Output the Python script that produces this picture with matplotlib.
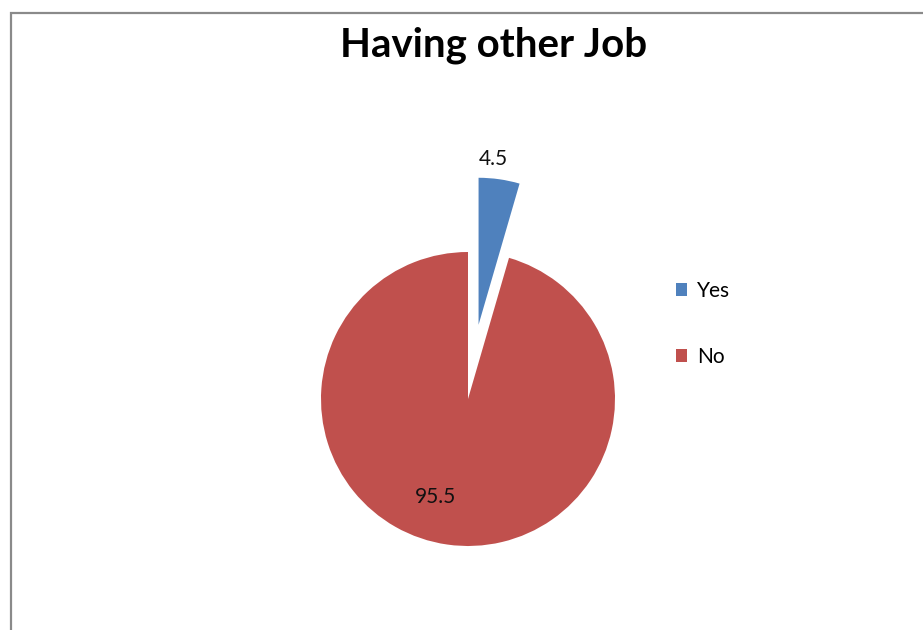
import matplotlib
matplotlib.use("Agg")
import matplotlib.pyplot as plt
from matplotlib.patches import Rectangle
import numpy as np

# Data
categories = ["Yes", "No"]
values = [4.5, 95.5]
value_labels = ["4.5", "95.5"]
colors = ["#4F81BD", "#C0504D"]
title = "Having other Job"

W, H = 923, 630
fig = plt.figure(figsize=(W / 100, H / 100), dpi=100)
fig.patch.set_facecolor("white")

# Chart area border (extends past the right and bottom edges)
fig.patches.append(Rectangle((10.5 / W, -0.1), 1.2, (H - 13) / H + 0.1,
                             transform=fig.transFigure, fill=False,
                             edgecolor="#8a8a8a", linewidth=1.6))

ax = fig.add_axes([0, 0, 1, 1])

cx, cy, r = 468, H - 399, 147
# pie's explode offset is in data units here
wedges, _ = ax.pie(values, colors=colors, startangle=90, counterclock=False,
                   center=(cx, cy), radius=r, explode=[0.51 * r, 0.0],
                   wedgeprops=dict(linewidth=0), frame=True)
ax.set_xlim(0, W)
ax.set_ylim(0, H)
ax.set_aspect("equal")
ax.axis("off")

# Value labels placed along each wedge's bisector
label_dist = [1.13, 0.70]
angle_shift = [3.0, -10.5]
for w, lab, d, s in zip(wedges, value_labels, label_dist, angle_shift):
    mid = np.deg2rad((w.theta1 + w.theta2) / 2 + s)
    x0, y0 = w.center
    ax.text(x0 + d * w.r * np.cos(mid), y0 + d * w.r * np.sin(mid), lab,
            ha="center", va="center", fontsize=15, family="Lato",
            color="#111111")

fig.text(494 / W, 1 - 45 / H, title, ha="center", va="center",
         fontsize=29, fontweight="bold", family="Lato", color="black")

leg = ax.legend(wedges, categories, loc="upper left",
                bbox_to_anchor=(676 / W, 1 - 281 / H),
                bbox_transform=fig.transFigure, frameon=False,
                prop=dict(family="Lato", size=15),
                handlelength=0.55, handleheight=0.55, handletextpad=0.45,
                labelspacing=2.2, borderpad=0, borderaxespad=0)

fig.savefig("out.png", dpi=100, facecolor="white")
